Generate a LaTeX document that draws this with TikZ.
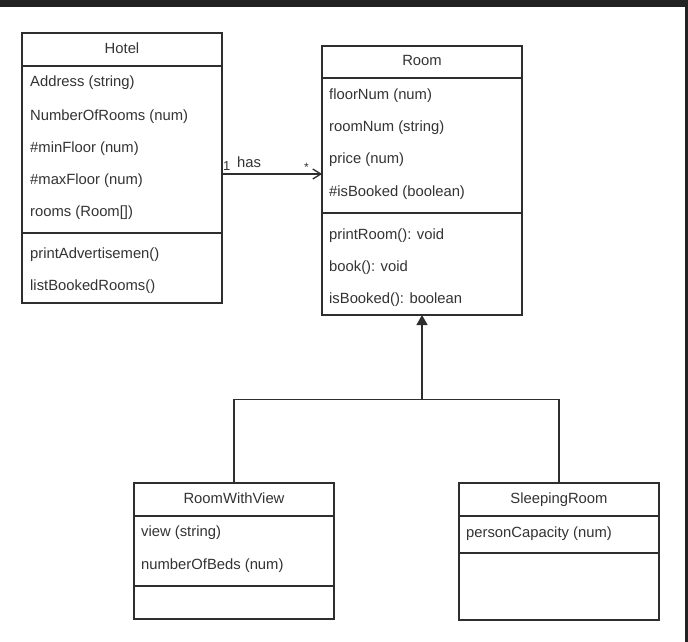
\documentclass[tikz,border=0pt]{standalone}
\usepackage{fontspec}
\setmainfont{Liberation Sans}
\usetikzlibrary{arrows.meta}
\definecolor{linec}{HTML}{2E2E2E}
\definecolor{textc}{HTML}{333333}
\definecolor{framec}{HTML}{222222}

\begin{document}
\begin{tikzpicture}[x=1pt,y=-1pt,
  txt/.style={font=\fontsize{14.8}{17}\selectfont, text=textc},
  compartment/.style={draw=linec, line width=1.3pt, anchor=north west,
    inner sep=0pt, outer sep=0pt, minimum width=200pt, txt,
    text height=10.5pt, text depth=3pt},
  member/.style={anchor=west, inner sep=0pt, txt, text height=10.5pt, text depth=3pt},
  edgelabel/.style={anchor=base west, inner sep=0pt, text=textc},
  link/.style={draw=linec, line width=1.3pt},
  assoc/.style={link, -{Straight Barb[length=8pt,width=10pt,line width=1.3pt]}},
  generalize/.style={link, -{Triangle[length=10pt,width=11pt]}}
]
% page and frame bands
\useasboundingbox (0,0) rectangle (688,642);
\fill[white] (0,0) rectangle (688,642);
\fill[framec] (0,0) rectangle (688,7.5);
\fill[framec] (685,0) rectangle (688,642);

% Hotel
\node[compartment, minimum height=33pt] (hotelH) at (22,33) {Hotel};
\node[compartment, minimum height=167pt] (hotelA) at (22,66) {};
\node[compartment, minimum height=70pt] (hotelM) at (22,233) {};
\node[member] (h1) at (30,83) {Address (string)};
\node[member] (h2) at (30,116.5) {NumberOfRooms (num)};
\node[member] (h3) at (30,148.5) {\#minFloor (num)};
\node[member] (h4) at (30,180.5) {\#maxFloor (num)};
\node[member] (h5) at (30,213) {rooms (Room[])};
\node[member] (h6) at (30,255) {printAdvertisemen()};
\node[member] (h7) at (30,287) {listBookedRooms()};

% Room
\node[compartment, minimum height=32pt] (roomH) at (322,46) {Room};
\node[compartment, minimum height=135pt] (roomA) at (322,78) {};
\node[compartment, minimum height=102pt] (roomM) at (322,213) {};
\node[member] (r1) at (329,95.5) {floorNum (num)};
\node[member] (r2) at (329,128) {roomNum (string)};
\node[member] (r3) at (329,160) {price (num)};
\node[member] (r4) at (329,192.5) {\#isBooked (boolean)};
\node[member] (r5) at (329,235.5) {printRoom(): void};
\node[member] (r6) at (329,268) {book(): void};
\node[member] (r7) at (329,300) {isBooked(): boolean};

% RoomWithView
\node[compartment, minimum height=33pt] (rwvH) at (134,483) {RoomWithView};
\node[compartment, minimum height=70pt] (rwvA) at (134,516) {};
\node[compartment, minimum height=33pt] (rwvM) at (134,586) {};
\node[member] (v1) at (141,533) {view (string)};
\node[member] (v2) at (141,565.5) {numberOfBeds (num)};

% SleepingRoom
\node[compartment, minimum height=33pt] (srH) at (459,483) {SleepingRoom};
\node[compartment, minimum height=37pt] (srA) at (459,516) {};
\node[compartment, minimum height=67pt] (srM) at (459,553) {};
\node[member] (s1) at (466,534) {personCapacity (num)};

% association Hotel -> Room
\coordinate (hasY) at (0,174);
\draw[assoc] (hotelA.east |- hasY) -- (roomA.west |- hasY);
\node[edgelabel, font=\fontsize{13}{15}\selectfont] (mult1) at (223,170) {1};
\node[edgelabel, font=\fontsize{14.8}{17}\selectfont] (hasL) at (237,167.5) {has};
\node[edgelabel, font=\fontsize{12}{14}\selectfont] (multN) at (304,171) {*};

% generalization
\coordinate (split) at (roomM.south |- 0,399.5);
\draw[link] (rwvH.north) |- (split) -| (srH.north);
\draw[generalize] (split) -- (roomM.south);
\end{tikzpicture}
\end{document}
